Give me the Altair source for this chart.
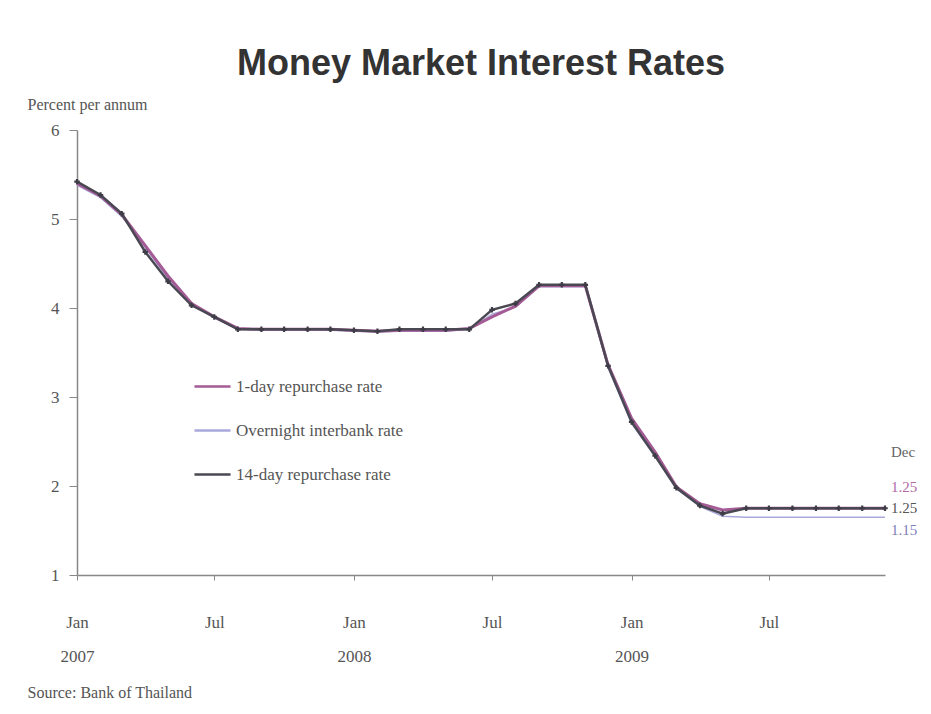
import altair as alt
import pandas as pd

months = [f"{y}-{m:02d}-01" for y in (2007, 2008, 2009) for m in range(1, 13)]

rate_14day = [5.42, 5.27, 5.06, 4.63, 4.30, 4.03, 3.90, 3.76, 3.76, 3.76, 3.76, 3.76,
              3.75, 3.74, 3.76, 3.76, 3.76, 3.76, 3.98, 4.05, 4.26, 4.26, 4.26, 3.35,
              2.72, 2.34, 1.98, 1.78, 1.69, 1.75, 1.75, 1.75, 1.75, 1.75, 1.75, 1.75]
rate_1day = [5.40, 5.26, 5.05, 4.70, 4.36, 4.05, 3.90, 3.77, 3.76, 3.76, 3.76, 3.76,
             3.75, 3.74, 3.75, 3.75, 3.75, 3.77, 3.90, 4.02, 4.25, 4.25, 4.25, 3.36,
             2.76, 2.38, 1.99, 1.80, 1.73, 1.75, 1.75, 1.75, 1.75, 1.75, 1.75, 1.75]
rate_overnight = [5.38, 5.24, 5.03, 4.68, 4.33, 4.04, 3.89, 3.76, 3.75, 3.75, 3.75, 3.75,
                  3.74, 3.73, 3.74, 3.74, 3.74, 3.76, 3.93, 4.01, 4.24, 4.24, 4.24, 3.33,
                  2.70, 2.33, 1.97, 1.77, 1.66, 1.65, 1.65, 1.65, 1.65, 1.65, 1.65, 1.65]

series_names = ["1-day repurchase rate", "Overnight interbank rate", "14-day repurchase rate"]
series_colors = ["#a45b96", "#a9a9dc", "#4a4852"]

end_labels = ["Dec", "1.25", "1.25", "1.15"]
end_label_colors = ["#666666", "#b06aa6", "#555555", "#7d80b8"]

rows = []
for name, vals in zip(series_names, [rate_1day, rate_overnight, rate_14day]):
    for d, v in zip(months, vals):
        rows.append({"date": d, "rate": v, "series": name})
df = pd.DataFrame(rows)

FONT = "Liberation Serif"

color = alt.Color(
    "series:N",
    scale=alt.Scale(domain=series_names, range=series_colors),
    legend=alt.Legend(
        title=None, orient="none", legendX=116, legendY=237,
        symbolType="stroke", symbolSize=1300, symbolStrokeWidth=2.5,
        labelFont=FONT, labelFontSize=17, labelColor="#555555",
        rowPadding=16, labelOffset=4, labelLimit=400,
    ),
)

x_enc = alt.X(
    "date:T",
    scale=alt.Scale(type="utc",
                    domain=[alt.DateTime(year=2007, month=1, date=1, utc=True),
                            alt.DateTime(year=2009, month=12, date=1, utc=True)]),
    axis=alt.Axis(
        values=[alt.DateTime(year=y, month=m, date=1, utc=True)
                for y in (2007, 2008, 2009) for m in (1, 7)],
        labelExpr="utcFormat(datum.value, '%m') == '01' ? ['Jan', utcFormat(datum.value, '%Y')] : 'Jul'",
        labelFont=FONT, labelFontSize=17, labelColor="#555555",
        labelPadding=42, labelLineHeight=34, labelBaseline="middle",
        labelFlush=False, labelOverlap=False,
        tickSize=5, tickColor="#888888", domainColor="#888888", domainWidth=1.5,
        grid=False,
        title="Source: Bank of Thailand", titleFont=FONT, titleFontSize=16,
        titleFontWeight="normal", titleColor="#555555",
        titleX=-50, titleY=117, titleAlign="left", titleBaseline="middle",
    ),
)

y_enc = alt.Y(
    "rate:Q",
    scale=alt.Scale(domain=[1, 6], nice=False, zero=False),
    axis=alt.Axis(
        values=[1, 2, 3, 4, 5, 6], format="d", grid=False,
        labelFont=FONT, labelFontSize=17, labelColor="#555555", labelPadding=10,
        tickSize=8, tickColor="#888888", domainColor="#888888", domainWidth=1.5,
        title="Percent per annum", titleFont=FONT, titleFontSize=16,
        titleFontWeight="normal", titleColor="#555555", titleAngle=0,
        titleX=-50, titleY=-26, titleAlign="left", titleBaseline="middle",
    ),
)

base = alt.Chart(df)

layers = []
for name, w in [("Overnight interbank rate", 1.5), ("1-day repurchase rate", 3), ("14-day repurchase rate", 2.5)]:
    layers.append(
        base.transform_filter(alt.datum.series == name)
        .mark_line(strokeWidth=w)
        .encode(x=x_enc, y=y_enc, color=color)
    )

points = (
    base.transform_filter(alt.datum.series == "14-day repurchase rate")
    .mark_point(shape="cross", filled=True, size=30, color="#3e3c46", opacity=1)
    .encode(x=x_enc, y=y_enc)
)
layers.append(points)

last = months[-1]
end_df = pd.DataFrame({
    "date": [last] * 4,
    "rate": [rate_14day[-1], rate_1day[-1], rate_14day[-1], rate_overnight[-1]],
    "label": end_labels,
})
offsets = [-56, -21, 0, 13]
for i in range(4):
    layers.append(
        alt.Chart(end_df.iloc[[i]])
        .mark_text(align="left", baseline="middle", dx=6, dy=offsets[i],
                   font=FONT, fontSize=15, color=end_label_colors[i])
        .encode(x=alt.X("date:T", scale=alt.Scale(type="utc")), y="rate:Q", text="label:N")
    )

chart = (
    alt.layer(*layers)
    .properties(
        width=808, height=445,
        background="#ffffff",
        autosize=alt.AutoSizeParams(type="none"),
        padding={"left": 69, "top": 122, "right": 38, "bottom": 131},
        title=alt.TitleParams(
            "Money Market Interest Rates", font="Liberation Sans", fontSize=36,
            fontWeight="bold", color="#333333", anchor="middle", offset=13,
        ),
    )
    .configure_view(strokeWidth=0, stroke=None)
)

chart.save("out.html", embed_options={"renderer": "svg", "actions": False})
